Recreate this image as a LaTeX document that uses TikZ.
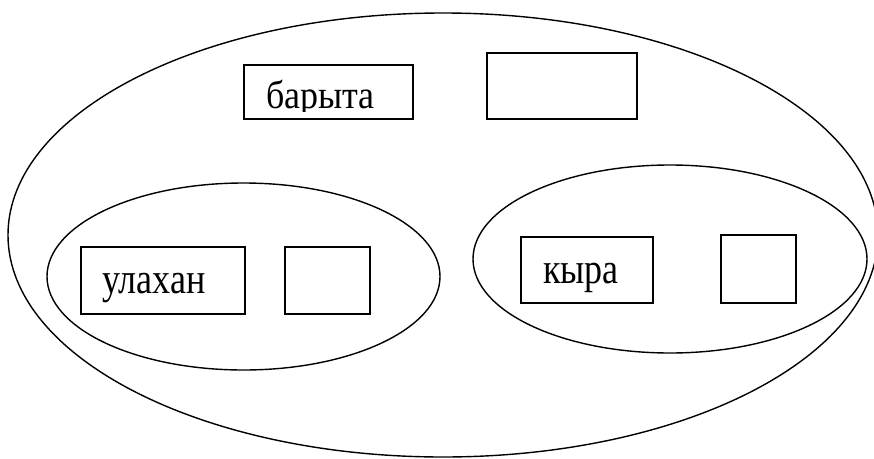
\documentclass[tikz,border=0pt]{standalone}
\usepackage{graphicx}
\usepackage{fontspec}
\setmainfont{Liberation Serif}
\usetikzlibrary{shapes.geometric}

\begin{document}
\begin{tikzpicture}
		[x=1pt, y=-1pt,
			box/.style ={rectangle, draw, line width=1.4pt, inner sep=0pt},
 oval/.style ={ellipse, draw, line width=1.4pt, inner sep=0pt},
 word/.style ={inner sep=0pt, anchor=base west, font=\fontsize{36}{40}\selectfont}]
		\useasboundingbox (0,0) rectangle (874,458);
%		% outer and inner ovals
		\path 	(443,235) node[oval, minimum width=870, minimum height=444] (all) {}
			(243.5,276.5) node[oval, minimum width=393, minimum height=187] (big) {}
			(670,259) node[oval, minimum width=394, minimum height=188] (small) {};
%		% boxes
		\path 	(328.5,92) node[box, minimum width=169, minimum height=54] (barbox) {}
			(562,86) node[box, minimum width=150, minimum height=66] (barfree) {}
			(163,280.5) node[box, minimum width=164, minimum height=67] (ulbox) {}
			(327.5,280.5) node[box, minimum width=85, minimum height=67] (ulfree) {}
			(587,270) node[box, minimum width=132, minimum height=66] (kybox) {}
			(758.5,269) node[box, minimum width=75, minimum height=68] (kyfree) {};
%		% words
		\begin{scope}
			\clip (250,70) rectangle (408,111);
			\node[word] (bar) at (266,108) {\scalebox{1}[1.1]{барыта}};
		\end{scope}
		\node[word] (ul) at (102,293) {\scalebox{1}[1.2]{улахан}};
		\node[word] (ky) at (543,283) {\scalebox{1}[1.2]{кыра}};
	\end{tikzpicture}
\end{document}
